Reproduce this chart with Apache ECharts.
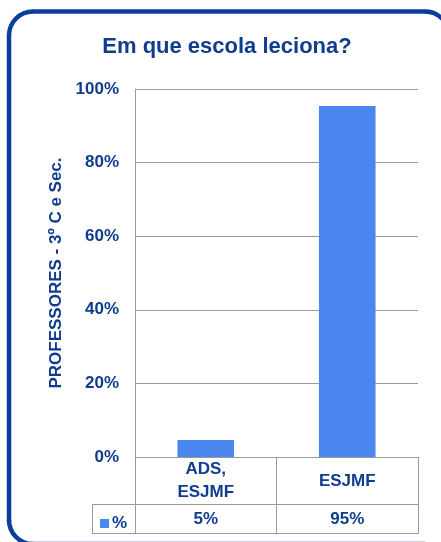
<!DOCTYPE html>
<html>
<head>
<meta charset="utf-8">
<script src="https://cdn.jsdelivr.net/npm/echarts@6/dist/echarts.min.js"></script>
<style>
html,body{margin:0;padding:0;background:#fff;}
#c{width:441px;height:542px;}
</style>
</head>
<body>
<div id="c"></div>
<script>
var categories = ['ADS,\nESJMF', 'ESJMF'];
var seriesName = '%';
var values = [4.6, 95.4];
var valueLabels = ['5%', '95%'];
var yTicks = [0, 20, 40, 60, 80, 100];

var TXT = '#0F3C8E';
var GRID = '#999999';
var BORDER = '#0B3D9B';
var FONT = '"Liberation Sans", Arial, sans-serif';

var chart = echarts.init(document.getElementById('c'), null, {renderer: 'canvas'});
var baseLabel = {color: TXT, fontWeight: 'bold', fontFamily: FONT, fontSize: 17};
var bStyle = {fill: 'none', stroke: BORDER, lineWidth: 4.5};
var bFill = {fill: BORDER};

chart.setOption({
  animation: false,
  backgroundColor: '#ffffff',
  title: {
    text: 'Em que escola leciona?',
    left: 222, top: 31, textAlign: 'center',
    textStyle: {color: TXT, fontWeight: 'bold', fontFamily: FONT, fontSize: 22}
  },
  legend: {
    data: [seriesName],
    left: 95, top: 510,
    icon: 'rect', itemWidth: 9, itemHeight: 9, itemGap: 0,
    textStyle: Object.assign({}, baseLabel, {padding: [0, 0, 0, -2]}),
    selectedMode: false
  },
  grid: {left: 135, right: 23, top: 89, bottom: 85},
  yAxis: {
    type: 'value', min: yTicks[0], max: yTicks[yTicks.length - 1], interval: 20,
    name: 'PROFESSORES - 3º C e Sec.',
    nameLocation: 'middle', nameGap: 69,
    nameTextStyle: Object.assign({}, baseLabel),
    axisLine: {show: true, lineStyle: {color: GRID, width: 1}},
    axisTick: {show: false},
    splitLine: {show: true, lineStyle: {color: GRID, width: 1}},
    axisLabel: Object.assign({}, baseLabel, {margin: 16, formatter: '{value}%'})
  },
  xAxis: [
    {
      type: 'category', data: categories, position: 'bottom',
      axisLine: {show: true, lineStyle: {color: GRID, width: 1}},
      axisTick: {show: true, length: 47, lineStyle: {color: GRID, width: 1}},
      axisLabel: Object.assign({}, baseLabel, {margin: 24, lineHeight: 23, verticalAlign: 'middle', interval: 0})
    },
    {
      type: 'category', data: categories, position: 'bottom', offset: 47,
      axisLine: {show: true, lineStyle: {color: GRID, width: 1}},
      axisTick: {show: true, length: 29, lineStyle: {color: GRID, width: 1}},
      axisLabel: Object.assign({}, baseLabel, {margin: 15, verticalAlign: 'middle', interval: 0,
        formatter: function (v, i) { return valueLabels[i]; }})
    },
    {
      type: 'category', data: categories, position: 'bottom', offset: 76,
      axisLine: {show: true, lineStyle: {color: GRID, width: 1}},
      axisTick: {show: false}, axisLabel: {show: false}
    }
  ],
  series: [{
    name: seriesName, type: 'bar', data: values, xAxisIndex: 0,
    barWidth: '40%', itemStyle: {color: '#4A88F0'}
  }],
  graphic: [
    {type: 'rect', z: 100, shape: {x: 6.75, y: 35, width: 4.5, height: 486}, style: bFill},
    {type: 'rect', z: 100, shape: {x: 32.5, y: 9.25, width: 393, height: 4.5}, style: bFill},
    {type: 'rect', z: 100, shape: {x: 32.5, y: 541.75, width: 393, height: 4.5}, style: bFill},
    {type: 'rect', z: 100, shape: {x: 446.75, y: 35, width: 4.5, height: 486}, style: bFill},
    {type: 'arc', z: 100, shape: {cx: 33, cy: 35.5, r: 24, startAngle: Math.PI, endAngle: Math.PI * 1.5, clockwise: true}, style: bStyle},
    {type: 'arc', z: 100, shape: {cx: 425, cy: 35.5, r: 24, startAngle: Math.PI * 1.5, endAngle: Math.PI * 2, clockwise: true}, style: bStyle},
    {type: 'arc', z: 100, shape: {cx: 33, cy: 520, r: 24, startAngle: Math.PI * 0.5, endAngle: Math.PI, clockwise: true}, style: bStyle},
    {type: 'line', shape: {x1: 92, y1: 504.5, x2: 135, y2: 504.5}, style: {stroke: GRID, lineWidth: 1}},
    {type: 'line', shape: {x1: 92, y1: 533.5, x2: 135, y2: 533.5}, style: {stroke: GRID, lineWidth: 1}},
    {type: 'line', shape: {x1: 92.5, y1: 504, x2: 92.5, y2: 534}, style: {stroke: GRID, lineWidth: 1}}
  ]
});
</script>
</body>
</html>
